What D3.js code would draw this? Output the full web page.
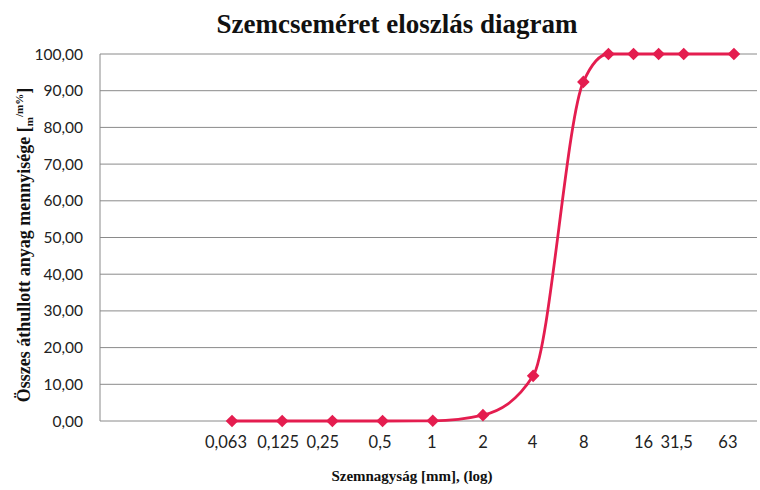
<!DOCTYPE html>
<html><head><meta charset="utf-8">
<script src="https://cdn.jsdelivr.net/npm/d3@7"></script>
<style>body{margin:0;background:#fff}</style>
</head><body>
<svg id="c" width="760" height="490"></svg>
<script>
// Data
const pointX = [1, 2, 3, 4, 5, 6, 7, 8, 8.5, 9, 9.5, 10, 11];
const values = [0, 0, 0, 0, 0.05, 1.6, 12.3, 92.4, 100, 100, 100, 100, 100];
const tickLabels = ["0,063", "0,125", "0,25", "0,5", "1", "2", "4", "8", "16", "31,5", "63"];
const tickLabelX = [0.88, 1.92, 2.81, 3.95, 4.98, 6.0, 6.99, 8.01, 9.2, 9.86, 10.88];
const yTicks = [0, 10, 20, 30, 40, 50, 60, 70, 80, 90, 100];

const svg = d3.select("#c");
const x = d3.scaleLinear().domain([-1.63, 11.46]).range([100, 757]);
const y = d3.scaleLinear().domain([0, 100]).range([421, 54]);
const fmt = v => v.toFixed(2).replace(".", ",");

// gridlines
svg.append("g").selectAll("line").data(yTicks).join("line")
  .attr("x1", x.range()[0]).attr("x2", x.range()[1])
  .attr("y1", d => y(d)).attr("y2", d => y(d))
  .attr("stroke", "#8a8a8a").attr("stroke-width", 1);
// left axis line
svg.append("line").attr("x1", 100).attr("x2", 100).attr("y1", y(100)).attr("y2", y(0))
  .attr("stroke", "#8a8a8a").attr("stroke-width", 1);

// y tick labels
svg.append("g").selectAll("text").data(yTicks).join("text")
  .attr("x", 83).attr("y", d => y(d)).attr("dy", "0.36em")
  .attr("text-anchor", "end").attr("font-family", "Lato, sans-serif").attr("font-size", 15.5)
  .attr("fill", "#222").text(fmt);

// x tick labels
svg.append("g").selectAll("text").data(tickLabels).join("text")
  .attr("x", (d, i) => x(tickLabelX[i])).attr("y", 448)
  .attr("text-anchor", "middle").attr("font-family", "Lato, sans-serif").attr("font-size", 16.5)
  .attr("fill", "#222").text(d => d);

// line
const pts = pointX.map((d, i) => [d, values[i]]);
const line = d3.line().x(d => x(d[0])).y(d => y(d[1])).curve(d3.curveMonotoneX);
svg.append("path").datum(pts).attr("d", line)
  .attr("fill", "none").attr("stroke", "#e41d4f").attr("stroke-width", 2.8);

// markers
svg.append("g").selectAll("path").data(pts).join("path")
  .attr("transform", d => `translate(${x(d[0])},${y(d[1])})`)
  .attr("d", "M0,-6.3L6.3,0L0,6.3L-6.3,0Z")
  .attr("fill", "#e41d4f");

// title
svg.append("text").attr("x", 397).attr("y", 33).attr("text-anchor", "middle")
  .attr("font-family", "'Liberation Serif', serif").attr("font-weight", "bold").attr("font-size", 27)
  .attr("fill", "#111").text("Szemcseméret eloszlás diagram");

// x axis title
svg.append("text").attr("x", 412).attr("y", 481).attr("text-anchor", "middle")
  .attr("font-family", "'Liberation Serif', serif").attr("font-weight", "bold").attr("font-size", 15)
  .attr("fill", "#111").text("Szemnagyság [mm], (log)");

// y axis title
const yt = svg.append("text").attr("transform", "translate(30,245) rotate(-90)")
  .attr("text-anchor", "middle")
  .attr("font-family", "'Liberation Serif', serif").attr("font-weight", "bold").attr("font-size", 18)
  .attr("fill", "#111");
yt.append("tspan").text("Összes áthullott anyag mennyisége [");
yt.append("tspan").attr("font-size", 11).attr("dy", 3).text("m");
yt.append("tspan").attr("font-size", 11).attr("dy", -10).text("/m%");
yt.append("tspan").attr("dy", 7).text("]");
</script>
</body></html>
